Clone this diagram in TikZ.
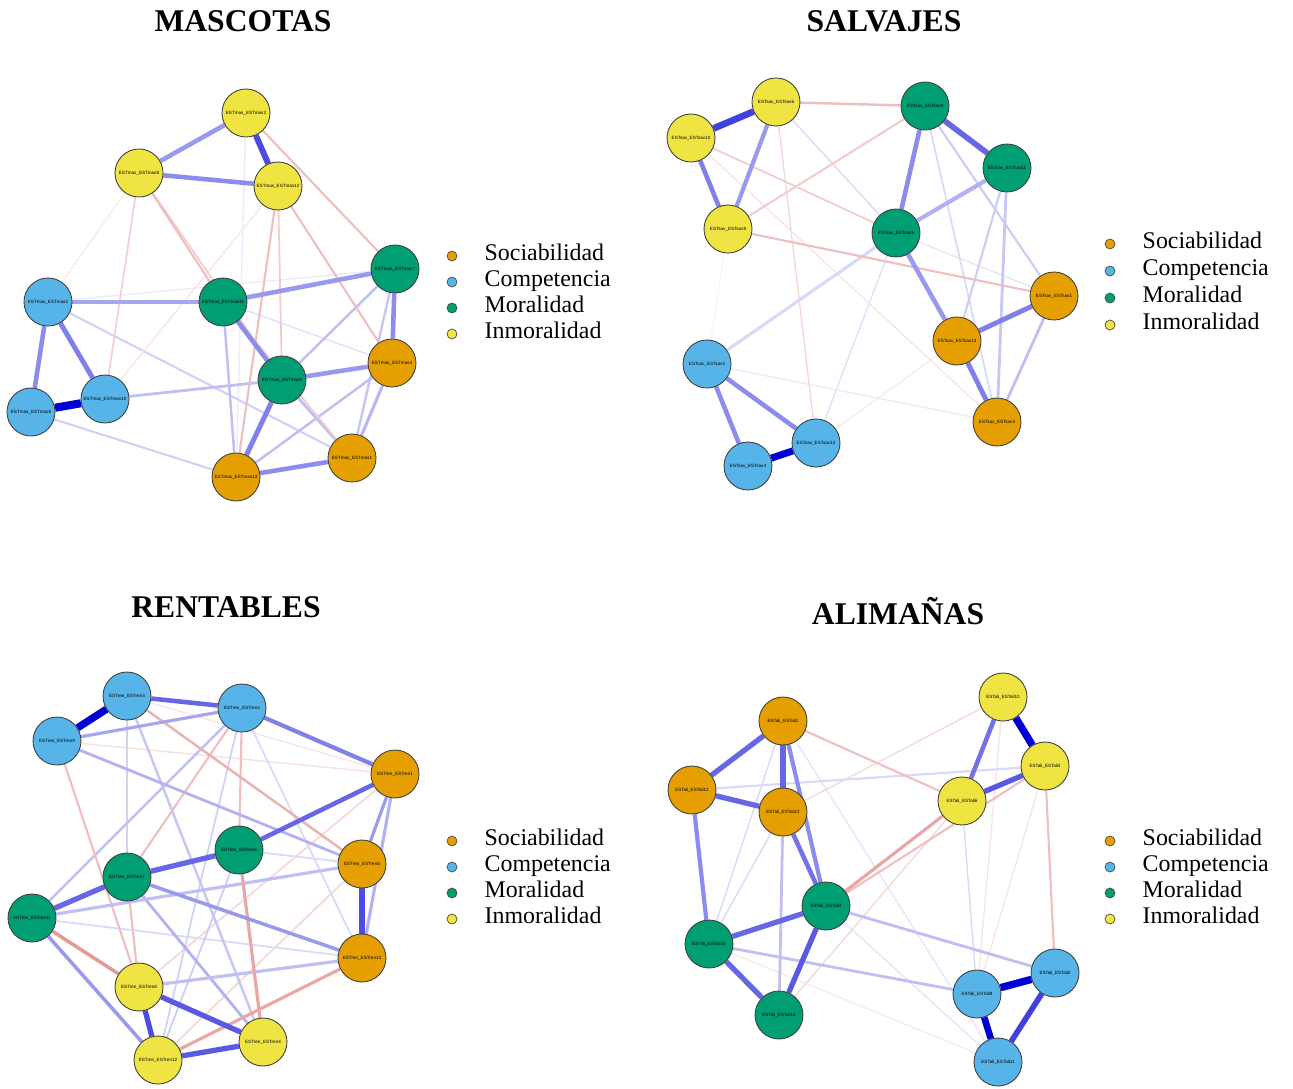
\documentclass[tikz,border=0pt]{standalone}
\usepackage{fontspec}
\setmainfont{Liberation Serif}
\setsansfont{Liberation Sans}
\usetikzlibrary{positioning,backgrounds}
\definecolor{socColor}{HTML}{E69F00}
\definecolor{comColor}{HTML}{56B4E9}
\definecolor{morColor}{HTML}{009E73}
\definecolor{inmColor}{HTML}{F0E442}
\definecolor{edgeblue}{RGB}{0,0,213}
\definecolor{edgered}{RGB}{191,0,0}
\tikzset{
  pe/.style={draw=edgeblue!#1},
  ne/.style={draw=edgered!#1}
}

\begin{document}
\begin{tikzpicture}[
        x=0.02cm, y=-0.02cm,
        item/.style={draw=black!75, line width=0.5pt, circle, minimum size=0.96cm, inner sep=0pt, font=\sffamily\fontsize{2.6}{3}\selectfont},
        soc/.style={item, fill=socColor},
        com/.style={item, fill=comColor},
        mor/.style={item, fill=morColor},
        inm/.style={item, fill=inmColor},
        dot/.style={draw=black!70, line width=0.4pt, circle, minimum size=0.2cm, inner sep=0pt},
        legtext/.style={anchor=west, inner sep=0pt, text height=7.6pt, text depth=3pt, font=\fontsize{13.6}{16}\selectfont},
        title/.style={anchor=base, inner sep=0pt, font=\bfseries\fontsize{18}{21}\selectfont}
    ]
        \useasboundingbox (0,0) rectangle (1293,1088);

        % Titles
        \node[title] (tMas) at (243,32) {MASCOTAS};
        \node[title] (tSal) at (884,32) {SALVAJES};
        \node[title] (tRen) at (226,617) {RENTABLES};
        \node[title] (tAli) at (898,624) {ALIMAÑAS};

        % ---------------- MASCOTAS ----------------
        \node[inm] (mY1) at (246,113) {ESTmas\_ESTmas3};
        \node[inm] (mY2) at (139,173) {ESTmas\_ESTmas8};
        \node[inm] (mY3) at (278,186) {ESTmas\_ESTmas12};
        \node[mor] (mG1) at (395,269) {ESTmas\_ESTmas7};
        \node[mor] (mG2) at (223,302) {ESTmas\_ESTmas11};
        \node[mor] (mG3) at (282,380) {ESTmas\_ESTmas5};
        \node[com] (mB1) at (48,302) {ESTmas\_ESTmas2};
        \node[com] (mB2) at (31,412) {ESTmas\_ESTmas6};
        \node[com] (mB3) at (105,399) {ESTmas\_ESTmas10};
        \node[soc] (mO1) at (392,363) {ESTmas\_ESTmas4};
        \node[soc] (mO2) at (352,458) {ESTmas\_ESTmas1};
        \node[soc] (mO3) at (236,477) {ESTmas\_ESTmas13};

        \begin{scope}[on background layer]
        \draw[pe=8, line width=0.8pt] (mY1) -- (mO3);
        \draw[pe=8, line width=0.8pt] (mB1) -- (mG1);
        \draw[pe=12, line width=0.8pt] (mG2) -- (mO1);
        \draw[pe=18, line width=1.2pt] (mB1) -- (mO2);
        \draw[pe=18, line width=1.2pt] (mB2) -- (mO3);
        \draw[pe=22, line width=1.4pt] (mG1) -- (mO2);
        \draw[pe=25, line width=1.4pt] (mG1) -- (mG3);
        \draw[pe=25, line width=1.6pt] (mB3) -- (mG3);
        \draw[pe=25, line width=1.4pt] (mO1) -- (mO3);
        \draw[pe=25, line width=1.4pt] (mG2) -- (mO3);
        \draw[pe=25, line width=1.6pt] (mG3) -- (mO2);
        \draw[pe=28, line width=1.8pt] (mO1) -- (mO2);
        \draw[ne=8, line width=0.8pt] (mY2) -- (mB1);
        \draw[ne=10, line width=0.8pt] (mY3) -- (mB3);
        \draw[ne=18, line width=1pt] (mY2) -- (mB3);
        \draw[ne=20, line width=1pt] (mY2) -- (mG3);
        \draw[ne=20, line width=1pt] (mY3) -- (mG3);
        \draw[ne=20, line width=1pt] (mG2) -- (mO2);
        \draw[ne=25, line width=1.2pt] (mY2) -- (mG2);
        \draw[ne=25, line width=1.2pt] (mY1) -- (mG1);
        \draw[ne=25, line width=1.2pt] (mY3) -- (mO1);
        \draw[ne=25, line width=1.2pt] (mY3) -- (mO3);
        \draw[pe=35, line width=2pt] (mB1) -- (mG2);
        \draw[pe=40, line width=2.6pt] (mG2) -- (mG1);
        \draw[pe=40, line width=2.6pt] (mG3) -- (mO1);
        \draw[pe=40, line width=2.6pt] (mY1) -- (mY2);
        \draw[pe=45, line width=2.6pt] (mY2) -- (mY3);
        \draw[pe=45, line width=2.6pt] (mG2) -- (mG3);
        \draw[pe=45, line width=2.6pt] (mG1) -- (mO1);
        \draw[pe=45, line width=2.6pt] (mO3) -- (mO2);
        \draw[pe=45, line width=2.6pt] (mB1) -- (mB2);
        \draw[pe=50, line width=2.8pt] (mB1) -- (mB3);
        \draw[pe=50, line width=2.8pt] (mG3) -- (mO3);
        \draw[pe=70, line width=3.4pt] (mY1) -- (mY3);
        \draw[pe=100, line width=4.6pt] (mB2) -- (mB3);
        \end{scope}

        % Legend
        \node[dot, fill=socColor] (mDot1) at (452,256) {};
        \node[dot, fill=comColor] (mDot2) at (452,282) {};
        \node[dot, fill=morColor] (mDot3) at (452,308) {};
        \node[dot, fill=inmColor] (mDot4) at (452,334) {};
        \node[legtext, right=0.54cm of mDot1] (mLeg1) {Sociabilidad};
        \node[legtext, right=0.54cm of mDot2] (mLeg2) {Competencia};
        \node[legtext, right=0.54cm of mDot3] (mLeg3) {Moralidad};
        \node[legtext, right=0.54cm of mDot4] (mLeg4) {Inmoralidad};

        % ---------------- SALVAJES ----------------
        \node[inm] (sY1) at (776,102) {ESTsav\_ESTsav6};
        \node[inm] (sY2) at (691,138) {ESTsav\_ESTsav10};
        \node[inm] (sY3) at (728,229) {ESTsav\_ESTsav8};
        \node[mor] (sG1) at (925,106) {ESTsav\_ESTsav9};
        \node[mor] (sG2) at (1007,168) {ESTsav\_ESTsav11};
        \node[mor] (sG3) at (896,233) {ESTsav\_ESTsav5};
        \node[soc] (sO1) at (1054,296) {ESTsav\_ESTsav1};
        \node[soc] (sO2) at (957,341) {ESTsav\_ESTsav13};
        \node[soc] (sO3) at (997,422) {ESTsav\_ESTsav4};
        \node[com] (sB1) at (707,364) {ESTsav\_ESTsav2};
        \node[com] (sB2) at (816,443) {ESTsav\_ESTsav12};
        \node[com] (sB3) at (748,466) {ESTsav\_ESTsav3};

        \begin{scope}[on background layer]
        \draw[ne=6, line width=0.6pt] (sY3) -- (sB1);
        \draw[pe=8, line width=0.8pt] (sB1) -- (sO3);
        \draw[ne=8, line width=0.8pt] (sO2) -- (sB2);
        \draw[ne=10, line width=0.8pt] (sY2) -- (sO3);
        \draw[pe=10, line width=0.8pt] (sG3) -- (sO1);
        \draw[pe=12, line width=0.8pt] (sG3) -- (sB2);
        \draw[pe=15, line width=0.8pt] (sY1) -- (sG3);
        \draw[ne=15, line width=0.8pt] (sY1) -- (sB2);
        \draw[pe=15, line width=1.8pt] (sG3) -- (sB1);
        \draw[pe=15, line width=1pt] (sG1) -- (sO3);
        \draw[pe=20, line width=1.2pt] (sG1) -- (sO1);
        \draw[pe=20, line width=1.2pt] (sG2) -- (sO2);
        \draw[ne=20, line width=1pt] (sY2) -- (sG3);
        \draw[ne=20, line width=1.2pt] (sY3) -- (sG1);
        \draw[ne=25, line width=1.2pt] (sY3) -- (sO1);
        \draw[ne=25, line width=1.4pt] (sY1) -- (sG1);
        \draw[pe=22, line width=1.6pt] (sG2) -- (sO3);
        \draw[pe=25, line width=1.6pt] (sO1) -- (sO3);
        \draw[pe=30, line width=2.4pt] (sG2) -- (sG3);
        \draw[pe=40, line width=2.6pt] (sG3) -- (sO2);
        \draw[pe=40, line width=2.4pt] (sY1) -- (sY3);
        \draw[pe=45, line width=2.6pt] (sG1) -- (sG3);
        \draw[pe=45, line width=2.6pt] (sB1) -- (sB2);
        \draw[pe=45, line width=2.6pt] (sB1) -- (sB3);
        \draw[pe=50, line width=2.6pt] (sY2) -- (sY3);
        \draw[pe=50, line width=2.8pt] (sO2) -- (sO1);
        \draw[pe=50, line width=2.8pt] (sO2) -- (sO3);
        \draw[pe=60, line width=3.2pt] (sG1) -- (sG2);
        \draw[pe=75, line width=3.8pt] (sY1) -- (sY2);
        \draw[pe=100, line width=4pt] (sB2) -- (sB3);
        \end{scope}

        % Legend
        \node[dot, fill=socColor] (sDot1) at (1110,244) {};
        \node[dot, fill=comColor] (sDot2) at (1110,271) {};
        \node[dot, fill=morColor] (sDot3) at (1110,298) {};
        \node[dot, fill=inmColor] (sDot4) at (1110,325) {};
        \node[legtext, right=0.54cm of sDot1] (sLeg1) {Sociabilidad};
        \node[legtext, right=0.54cm of sDot2] (sLeg2) {Competencia};
        \node[legtext, right=0.54cm of sDot3] (sLeg3) {Moralidad};
        \node[legtext, right=0.54cm of sDot4] (sLeg4) {Inmoralidad};

        % ---------------- RENTABLES ----------------
        \node[com] (rB1) at (127,696) {ESTren\_ESTren3};
        \node[com] (rB2) at (242,708) {ESTren\_ESTren2};
        \node[com] (rB3) at (57,741) {ESTren\_ESTren9};
        \node[soc] (rO1) at (395,774) {ESTren\_ESTren1};
        \node[soc] (rO2) at (362,864) {ESTren\_ESTren6};
        \node[soc] (rO3) at (362,958) {ESTren\_ESTren13};
        \node[mor] (rG1) at (239,850) {ESTren\_ESTren5};
        \node[mor] (rG2) at (127,877) {ESTren\_ESTren7};
        \node[mor] (rG3) at (32,918) {ESTren\_ESTren11};
        \node[inm] (rY1) at (139,987) {ESTren\_ESTren8};
        \node[inm] (rY2) at (263,1042) {ESTren\_ESTren4};
        \node[inm] (rY3) at (158,1060) {ESTren\_ESTren12};

        \begin{scope}[on background layer]
        \draw[ne=10, line width=0.8pt] (rB1) -- (rO1);
        \draw[ne=12, line width=0.8pt] (rB3) -- (rO1);
        \draw[pe=15, line width=1pt] (rG3) -- (rO3);
        \draw[pe=15, line width=1pt] (rG1) -- (rO2);
        \draw[pe=15, line width=1pt] (rB2) -- (rO3);
        \draw[ne=15, line width=1pt] (rO2) -- (rY3);
        \draw[ne=15, line width=1pt] (rO1) -- (rY1);
        \draw[pe=18, line width=1pt] (rB2) -- (rY3);
        \draw[pe=18, line width=1.4pt] (rB1) -- (rG2);
        \draw[pe=20, line width=1pt] (rG1) -- (rY3);
        \draw[pe=22, line width=1.4pt] (rB1) -- (rY2);
        \draw[pe=25, line width=1.4pt] (rB2) -- (rG3);
        \draw[ne=25, line width=1.2pt] (rB2) -- (rG1);
        \draw[ne=25, line width=1.2pt] (rB2) -- (rG2);
        \draw[ne=25, line width=1.2pt] (rB3) -- (rY1);
        \draw[ne=25, line width=1.2pt] (rG2) -- (rY1);
        \draw[ne=30, line width=1.4pt] (rB1) -- (rO2);
        \draw[pe=30, line width=1.6pt] (rB3) -- (rO2);
        \draw[pe=30, line width=1.6pt] (rG2) -- (rY2);
        \draw[pe=25, line width=1.8pt] (rG3) -- (rO2);
        \draw[pe=25, line width=1.8pt] (rY1) -- (rO3);
        \draw[ne=35, line width=1.8pt] (rY3) -- (rO3);
        \draw[ne=35, line width=1.8pt] (rG1) -- (rY2);
        \draw[ne=40, line width=2pt] (rG3) -- (rY1);
        \draw[pe=30, line width=1.8pt] (rO1) -- (rO3);
        \draw[pe=35, line width=1.8pt] (rB3) -- (rB2);
        \draw[pe=40, line width=1.8pt] (rO1) -- (rO2);
        \draw[pe=40, line width=2pt] (rG2) -- (rO3);
        \draw[pe=40, line width=2pt] (rG3) -- (rY3);
        \draw[pe=50, line width=2.4pt] (rB2) -- (rO1);
        \draw[pe=60, line width=2.6pt] (rB1) -- (rB2);
        \draw[pe=60, line width=2.6pt] (rO1) -- (rG1);
        \draw[pe=60, line width=3pt] (rG1) -- (rG2);
        \draw[pe=60, line width=3pt] (rG2) -- (rG3);
        \draw[pe=65, line width=3pt] (rY1) -- (rY2);
        \draw[pe=65, line width=3pt] (rY3) -- (rY2);
        \draw[pe=70, line width=3pt] (rO2) -- (rO3);
        \draw[pe=70, line width=3pt] (rY1) -- (rY3);
        \draw[pe=100, line width=4.2pt] (rB1) -- (rB3);
        \end{scope}

        % Legend
        \node[dot, fill=socColor] (rDot1) at (452,841) {};
        \node[dot, fill=comColor] (rDot2) at (452,867) {};
        \node[dot, fill=morColor] (rDot3) at (452,893) {};
        \node[dot, fill=inmColor] (rDot4) at (452,919) {};
        \node[legtext, right=0.54cm of rDot1] (rLeg1) {Sociabilidad};
        \node[legtext, right=0.54cm of rDot2] (rLeg2) {Competencia};
        \node[legtext, right=0.54cm of rDot3] (rLeg3) {Moralidad};
        \node[legtext, right=0.54cm of rDot4] (rLeg4) {Inmoralidad};

        % ---------------- ALIMAÑAS ----------------
        \node[soc] (aO1) at (783,721) {ESTali\_ESTali1};
        \node[soc] (aO2) at (692,790) {ESTali\_ESTali13};
        \node[soc] (aO3) at (783,812) {ESTali\_ESTali12};
        \node[mor] (aG1) at (826,906) {ESTali\_ESTali3};
        \node[mor] (aG2) at (709,944) {ESTali\_ESTali15};
        \node[mor] (aG3) at (779,1015) {ESTali\_ESTali14};
        \node[inm] (aY1) at (1003,697) {ESTali\_ESTali10};
        \node[inm] (aY2) at (1045,766) {ESTali\_ESTali4};
        \node[inm] (aY3) at (962,801) {ESTali\_ESTali6};
        \node[com] (aB1) at (1055,973) {ESTali\_ESTali2};
        \node[com] (aB2) at (977,994) {ESTali\_ESTali9};
        \node[com] (aB3) at (998,1062) {ESTali\_ESTali11};

        \begin{scope}[on background layer]
        \draw[ne=8, line width=0.8pt] (aG2) -- (aB3);
        \draw[pe=10, line width=0.8pt] (aO1) -- (aB3);
        \draw[pe=10, line width=0.8pt] (aG1) -- (aB3);
        \draw[ne=10, line width=0.8pt] (aY1) -- (aB2);
        \draw[ne=10, line width=0.8pt] (aY2) -- (aB2);
        \draw[pe=15, line width=0.8pt] (aO1) -- (aG2);
        \draw[pe=15, line width=0.8pt] (aO3) -- (aG2);
        \draw[pe=15, line width=0.8pt] (aY3) -- (aB2);
        \draw[pe=15, line width=1.2pt] (aO2) -- (aY2);
        \draw[ne=15, line width=0.8pt] (aO3) -- (aY1);
        \draw[ne=15, line width=0.8pt] (aG3) -- (aY3);
        \draw[ne=25, line width=1.2pt] (aO1) -- (aY3);
        \draw[ne=25, line width=1.2pt] (aG1) -- (aY2);
        \draw[ne=25, line width=1.2pt] (aY2) -- (aB1);
        \draw[ne=35, line width=1.8pt] (aG1) -- (aY3);
        \draw[pe=25, line width=1.6pt] (aG1) -- (aB1);
        \draw[pe=25, line width=1.6pt] (aG2) -- (aB2);
        \draw[pe=25, line width=1.6pt] (aO3) -- (aG3);
        \draw[pe=45, line width=2.4pt] (aO1) -- (aG1);
        \draw[pe=45, line width=2.4pt] (aO2) -- (aG2);
        \draw[pe=55, line width=2.6pt] (aO3) -- (aG1);
        \draw[pe=55, line width=2.6pt] (aY1) -- (aY3);
        \draw[pe=60, line width=3pt] (aO1) -- (aO2);
        \draw[pe=60, line width=3pt] (aO1) -- (aO3);
        \draw[pe=60, line width=3pt] (aO2) -- (aO3);
        \draw[pe=60, line width=3pt] (aG1) -- (aG2);
        \draw[pe=60, line width=3pt] (aG2) -- (aG3);
        \draw[pe=65, line width=3pt] (aG1) -- (aG3);
        \draw[pe=65, line width=3pt] (aY3) -- (aY2);
        \draw[pe=75, line width=3.2pt] (aB1) -- (aB3);
        \draw[pe=100, line width=3.8pt] (aB2) -- (aB3);
        \draw[pe=100, line width=4.2pt] (aB1) -- (aB2);
        \draw[pe=100, line width=4.2pt] (aY1) -- (aY2);
        \end{scope}

        % Legend
        \node[dot, fill=socColor] (aDot1) at (1110,841) {};
        \node[dot, fill=comColor] (aDot2) at (1110,867) {};
        \node[dot, fill=morColor] (aDot3) at (1110,893) {};
        \node[dot, fill=inmColor] (aDot4) at (1110,919) {};
        \node[legtext, right=0.54cm of aDot1] (aLeg1) {Sociabilidad};
        \node[legtext, right=0.54cm of aDot2] (aLeg2) {Competencia};
        \node[legtext, right=0.54cm of aDot3] (aLeg3) {Moralidad};
        \node[legtext, right=0.54cm of aDot4] (aLeg4) {Inmoralidad};
    \end{tikzpicture}
\end{document}
